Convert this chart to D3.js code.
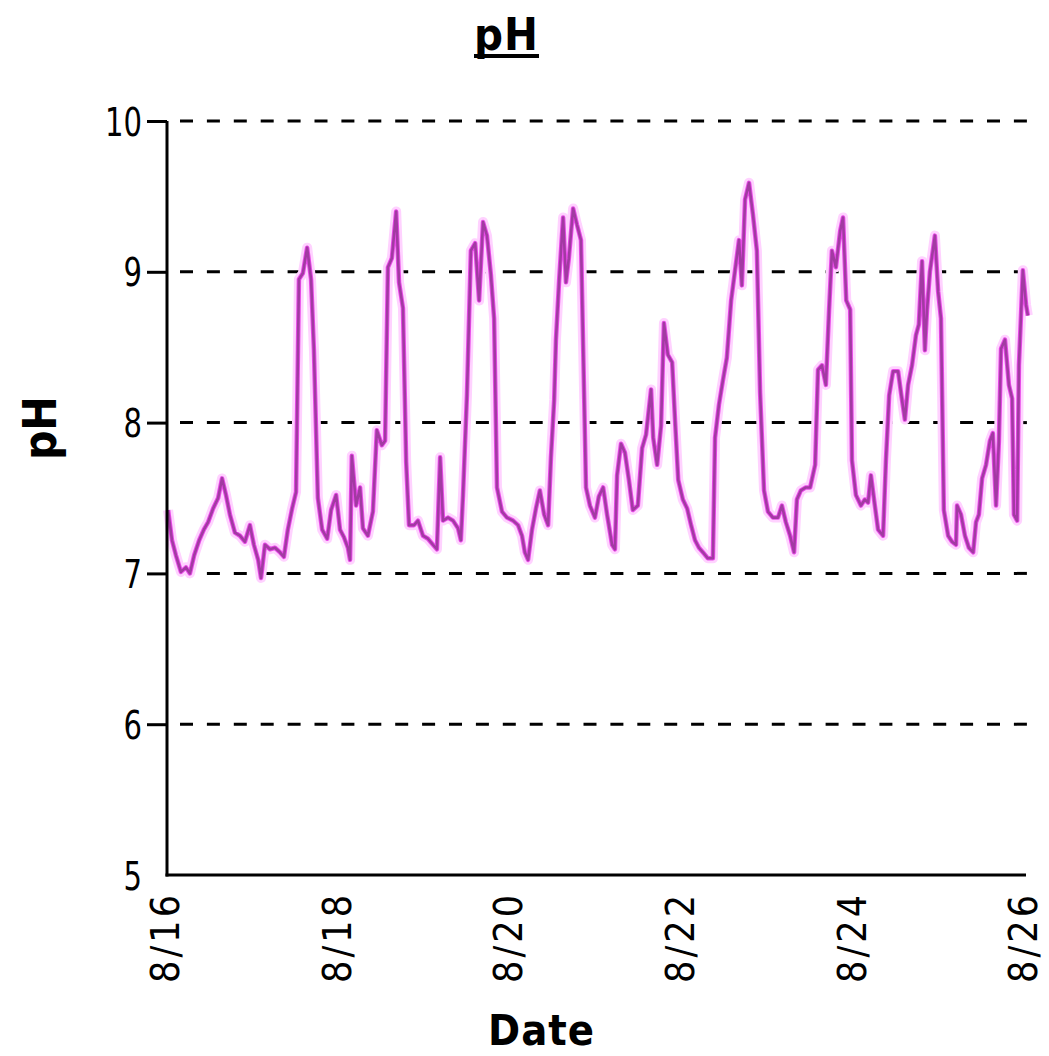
<!DOCTYPE html>
<html>
<head>
<meta charset="utf-8">
<script src="https://cdn.jsdelivr.net/npm/d3@7"></script>
<style>
  html, body { margin: 0; padding: 0; background: #fff; }
  svg { display: block; }
  .lbl { font-family: "Liberation Sans Narrow", "DejaVu Sans Condensed", sans-serif; fill: #000; }
</style>
</head>
<body>
<svg id="chart" width="1049" height="1056"></svg>
<script>
// hours after 8/16 00:00, and the pH reading at that time
const hours = [
  0.3, 1.4, 2.5, 3.9, 5.3, 6.4, 7.6, 9.0, 10.3, 11.5, 12.9, 14.3, 15.4, 16.5, 17.6, 19.0, 20.4, 21.8, 23.2, 24.3,
  25.5, 26.3, 27.4, 28.8, 30.2, 31.6, 32.7, 33.8, 35.0, 36.1, 36.9, 38.0, 39.2, 40.3, 41.1, 42.2, 43.4, 44.8, 45.9, 47.3,
  48.4, 49.5, 50.6, 51.2, 51.7, 52.9, 54.0, 54.8, 56.2, 57.6, 58.7, 60.1, 61.0, 61.8, 62.9, 64.1, 64.9, 66.0, 66.9, 67.7,
  69.1, 70.2, 71.6, 73.0, 74.4, 75.5, 76.4, 77.2, 78.6, 80.0, 81.4, 82.2, 82.8, 83.9, 85.0, 86.2, 87.3, 88.4, 89.5, 90.6,
  91.5, 92.3, 93.7, 95.1, 96.8, 98.2, 99.3, 100.1, 101.0, 102.1, 103.2, 104.3, 105.5, 106.6, 107.4, 108.3, 108.8, 109.7, 110.8, 111.6,
  112.4, 113.6, 114.7, 115.8, 116.4, 117.2, 118.3, 119.7, 120.8, 122.0, 123.1, 124.5, 125.3, 125.9, 127.0, 128.1, 129.2, 130.3, 131.7, 132.9,
  134.0, 135.4, 136.0, 137.1, 138.2, 139.0, 140.1, 141.3, 142.1, 143.0, 144.3, 145.5, 146.6, 147.7, 148.8, 149.9, 151.3, 152.7, 153.3, 154.4,
  155.5, 156.6, 157.8, 158.9, 160.0, 160.8, 161.7, 162.8, 163.9, 165.0, 165.9, 167.0, 168.1, 169.5, 170.9, 172.0, 173.1, 174.3, 175.4, 176.2,
  177.3, 178.7, 179.9, 181.3, 182.1, 183.2, 184.3, 185.2, 186.0, 187.1, 188.3, 189.1, 190.0, 191.1, 191.6, 192.7, 194.1, 195.2, 196.1, 196.9,
  198.0, 198.9, 200.3, 201.1, 202.0, 203.1, 204.5, 205.6, 206.4, 207.3, 208.4, 209.5, 210.3, 211.2, 212.0, 212.6, 213.4, 214.8, 215.7, 216.5,
  217.3, 218.5, 219.6, 220.7, 221.0, 222.1, 223.2, 224.3, 225.5, 226.3, 227.1, 228.0, 229.1, 230.2, 231.0, 231.9, 232.7, 233.3, 234.4, 235.5,
  236.4, 236.9, 237.8, 238.3, 239.4, 240.3, 240.8
]
const ph = [
  7.42, 7.22, 7.12, 7.01, 7.04, 7.00, 7.12, 7.22, 7.29, 7.34, 7.43, 7.50, 7.63, 7.52, 7.39, 7.27, 7.25, 7.21, 7.32, 7.19,
  7.09, 6.97, 7.19, 7.16, 7.17, 7.14, 7.11, 7.29, 7.43, 7.54, 8.95, 8.99, 9.16, 8.95, 8.48, 7.50, 7.29, 7.23, 7.42, 7.52,
  7.29, 7.24, 7.17, 7.09, 7.78, 7.45, 7.57, 7.30, 7.25, 7.41, 7.95, 7.85, 7.88, 9.03, 9.09, 9.40, 8.93, 8.76, 7.74, 7.32,
  7.32, 7.35, 7.25, 7.23, 7.19, 7.16, 7.77, 7.35, 7.37, 7.35, 7.30, 7.22, 7.52, 8.18, 9.14, 9.19, 8.81, 9.33, 9.24, 8.98,
  8.69, 7.57, 7.41, 7.37, 7.35, 7.32, 7.25, 7.14, 7.09, 7.29, 7.43, 7.55, 7.39, 7.32, 7.77, 8.15, 8.55, 8.95, 9.36, 8.93,
  9.09, 9.42, 9.31, 9.21, 8.51, 7.57, 7.45, 7.37, 7.51, 7.57, 7.39, 7.19, 7.16, 7.65, 7.86, 7.80, 7.62, 7.42, 7.45, 7.83,
  7.92, 8.22, 7.90, 7.72, 7.98, 8.66, 8.45, 8.40, 8.02, 7.62, 7.49, 7.43, 7.32, 7.22, 7.17, 7.14, 7.10, 7.10, 7.90, 8.12,
  8.28, 8.43, 8.81, 9.01, 9.21, 8.91, 9.48, 9.59, 9.38, 9.14, 8.20, 7.55, 7.41, 7.37, 7.37, 7.45, 7.34, 7.25, 7.14, 7.49,
  7.55, 7.57, 7.57, 7.72, 8.35, 8.38, 8.25, 8.75, 9.14, 9.03, 9.27, 9.36, 8.81, 8.75, 7.75, 7.52, 7.45, 7.49, 7.47, 7.65,
  7.45, 7.29, 7.25, 7.75, 8.18, 8.34, 8.34, 8.15, 8.02, 8.25, 8.38, 8.58, 8.65, 9.07, 8.48, 8.75, 9.00, 9.24, 8.87, 8.69,
  7.42, 7.25, 7.21, 7.19, 7.45, 7.39, 7.25, 7.17, 7.14, 7.34, 7.39, 7.63, 7.72, 7.88, 7.93, 7.45, 7.88, 8.49, 8.55, 8.25,
  8.16, 7.39, 7.35, 8.38, 9.01, 8.78, 8.71
]

const yTicks = [5, 6, 7, 8, 9, 10]
const xTickDays = [16, 18, 20, 22, 24, 26]

const start = new Date(2000, 7, 16)
const hourMs = 3600 * 1000
const data = hours.map((h, i) => ({ t: new Date(+start + h * hourMs), v: ph[i] }))
const xTicks = xTickDays.map(d => new Date(2000, 7, d))

const plotLeft = 167, plotRight = 1025, plotTop = 121, plotBottom = 875

const svg = d3.select('#chart')

svg.append('rect')
    .attr('width', 1049)
    .attr('height', 1056)
    .attr('fill', '#fff')

const x = d3.scaleTime()
    .domain([xTicks[0], xTicks[xTicks.length - 1]])
    .range([plotLeft, plotRight])

const y = d3.scaleLinear()
    .domain([5, 10])
    .range([plotBottom, plotTop])

// dashed grid
svg.append('g')
  .selectAll('line')
  .data(yTicks.filter(d => d > 5))
  .join('line')
    .attr('x1', plotLeft)
    .attr('x2', plotRight + 4)
    .attr('y1', d => y(d))
    .attr('y2', d => y(d))
    .attr('stroke', '#000')
    .attr('stroke-width', 3)
    .attr('stroke-dasharray', '13 13.9')
    .attr('stroke-dashoffset', -13)

// series: halo, glow, core
const line = d3.line()
    .x(d => x(d.t))
    .y(d => y(d.v))

svg.append('path')
    .datum(data)
    .attr('d', line)
    .attr('fill', 'none')
    .attr('stroke', '#ffd2ff')
    .attr('stroke-width', 10)
    .attr('stroke-linejoin', 'round')

svg.append('path')
    .datum(data)
    .attr('d', line)
    .attr('fill', 'none')
    .attr('stroke', '#e01ee0')
    .attr('stroke-width', 4.5)
    .attr('stroke-opacity', 0.75)
    .attr('stroke-linejoin', 'round')

svg.append('path')
    .datum(data)
    .attr('d', line)
    .attr('fill', 'none')
    .attr('stroke', '#a23aa2')
    .attr('stroke-width', 2.6)
    .attr('stroke-linejoin', 'round')

// y axis
const yAxis = svg.append('g')
    .attr('transform', `translate(${plotLeft},0)`)
    .call(d3.axisLeft(y).tickValues(yTicks).tickSize(20).tickPadding(5).tickFormat(d3.format('d')))

yAxis.select('.domain')
    .attr('d', `M0,${plotTop}V${plotBottom + 1.5}`)
    .attr('stroke-width', 3)

yAxis.selectAll('.tick line')
    .attr('stroke-width', 3)
    .attr('opacity', d => d === 5 ? 0 : 1)

yAxis.selectAll('.tick text')
    .attr('class', 'lbl')
    .attr('font-size', 39)
    .attr('dy', '0.36em')
    .attr('textLength', d => String(d).length * 18.5)
    .attr('lengthAdjust', 'spacingAndGlyphs')

// x axis
const xAxis = svg.append('g')
    .attr('transform', `translate(0,${plotBottom})`)
    .call(d3.axisBottom(x).tickValues(xTicks).tickSize(0).tickFormat(d3.timeFormat('%-m/%-d')))

xAxis.select('.domain')
    .attr('d', `M${plotLeft - 1.5},0H${plotRight + 1}`)
    .attr('stroke-width', 3)

xAxis.selectAll('.tick text')
    .attr('class', 'lbl')
    .attr('font-size', 39)
    .attr('transform', 'rotate(-90)')
    .attr('text-anchor', 'end')
    .attr('x', -20)
    .attr('y', 0)
    .attr('dy', '0.3em')
    .attr('textLength', 88)
    .attr('lengthAdjust', 'spacing')

// titles
svg.append('text')
    .attr('class', 'lbl')
    .attr('x', 506)
    .attr('y', 50)
    .attr('text-anchor', 'middle')
    .attr('font-size', 45)
    .attr('font-weight', 'bold')
    .attr('textLength', 64)
    .attr('lengthAdjust', 'spacing')
    .text('pH')

svg.append('line')
    .attr('x1', 474)
    .attr('x2', 539)
    .attr('y1', 56)
    .attr('y2', 56)
    .attr('stroke', '#000')
    .attr('stroke-width', 4)

svg.append('text')
    .attr('class', 'lbl')
    .attr('transform', 'translate(40,428) rotate(-90)')
    .attr('text-anchor', 'middle')
    .attr('dy', '0.35em')
    .attr('font-size', 46)
    .attr('font-weight', 'bold')
    .attr('textLength', 64)
    .attr('lengthAdjust', 'spacing')
    .text('pH')

svg.append('text')
    .attr('class', 'lbl')
    .attr('x', 541)
    .attr('y', 1045)
    .attr('text-anchor', 'middle')
    .attr('font-size', 43)
    .attr('font-weight', 'bold')
    .attr('textLength', 106)
    .attr('lengthAdjust', 'spacing')
    .text('Date')
</script>
</body>
</html>
